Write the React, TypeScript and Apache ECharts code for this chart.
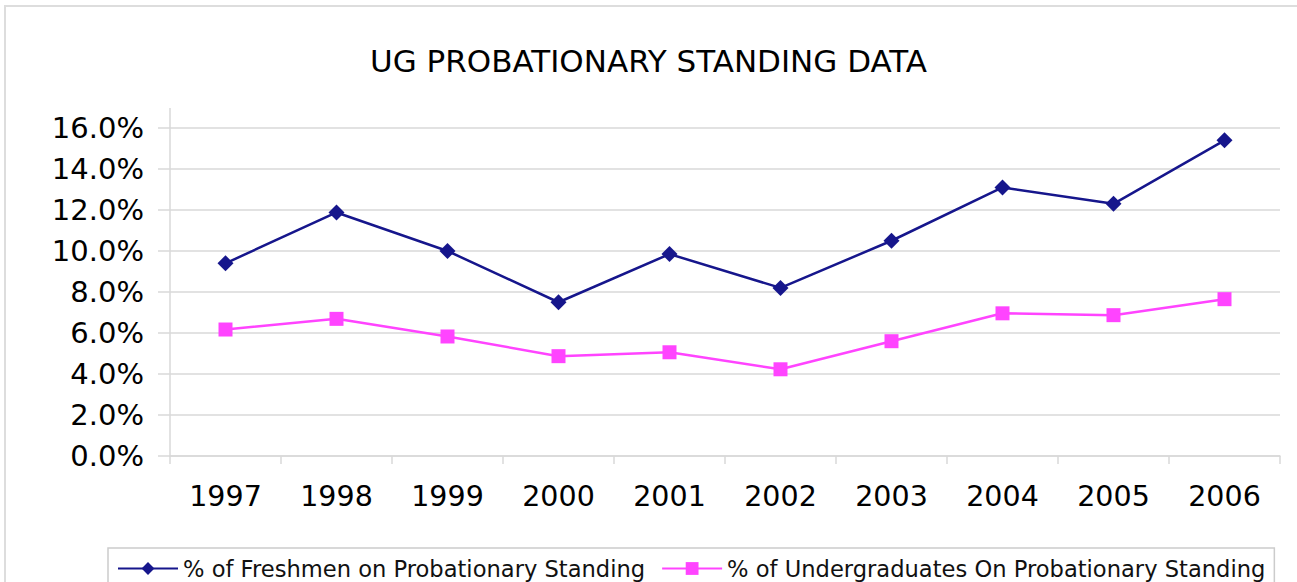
import React, { useEffect, useRef } from "react";
import * as echarts from "echarts";

const years = ["1997", "1998", "1999", "2000", "2001", "2002", "2003", "2004", "2005", "2006"];
const freshmen = [0.094, 0.1188, 0.100, 0.075, 0.0985, 0.082, 0.105, 0.131, 0.123, 0.154];
const undergrads = [0.0617, 0.0669, 0.0583, 0.0487, 0.0506, 0.0423, 0.056, 0.0696, 0.0687, 0.0765];
const seriesNames = [
  "% of Freshmen on Probationary Standing",
  "% of Undergraduates On Probationary Standing",
];
const titleText = "UG PROBATIONARY STANDING DATA";

export default function App() {
  const ref = useRef<HTMLDivElement>(null);
  useEffect(() => {
    if (!ref.current) return;
    const chart = echarts.init(ref.current, undefined, { renderer: "svg" });
    const font = "'DejaVu Sans', Verdana, sans-serif";
    chart.setOption({
      animation: false,
      backgroundColor: "#ffffff",
      textStyle: { fontFamily: font },
      title: {
        text: titleText,
        left: "center",
        top: 40,
        textStyle: { fontFamily: font, fontSize: 31, fontWeight: "normal", color: "#000" },
      },
      graphic: [
        {
          type: "polyline",
          shape: { points: [[5, 600], [5, 6], [1300, 6]] },
          style: { stroke: "#dddddd", lineWidth: 2, fill: "none" },
          silent: true,
        },
        {
          type: "line",
          shape: { x1: 170, y1: 108, x2: 170, y2: 128 },
          style: { stroke: "#d9d9d9", lineWidth: 1.5 },
          silent: true,
        },
      ],
      legend: {
        left: 108,
        top: 548,
        padding: [9, 9, 9, 9],
        borderColor: "#cccccc",
        borderWidth: 1.5,
        itemWidth: 60,
        itemHeight: 16,
        itemGap: 16,
        textStyle: { fontFamily: font, fontSize: 22.6, color: "#111" },
        data: seriesNames,
      },
      grid: { left: 170, right: 17, top: 128, bottom: 126, containLabel: false },
      xAxis: {
        type: "category",
        data: years,
        boundaryGap: true,
        axisLine: { lineStyle: { color: "#d9d9d9", width: 1.5 } },
        axisTick: { show: true, length: 8, inside: false, lineStyle: { color: "#d9d9d9", width: 1.5 } },
        axisLabel: { fontFamily: font, fontSize: 28.5, color: "#000", margin: 26 },
      },
      yAxis: {
        type: "value",
        min: 0,
        max: 0.16,
        interval: 0.02,
        axisLine: { show: true, lineStyle: { color: "#d9d9d9", width: 1.5 } },
        axisTick: { show: true, length: 12, lineStyle: { color: "#d9d9d9", width: 1.5 } },
        splitLine: { show: true, lineStyle: { color: "#d9d9d9", width: 1.5 } },
        axisLabel: {
          fontFamily: font,
          fontSize: 29,
          color: "#000",
          margin: 26,
          formatter: (v: number) => (v * 100).toFixed(1) + "%",
        },
      },
      series: [
        {
          name: seriesNames[0],
          type: "line",
          data: freshmen,
          symbol: "diamond",
          symbolSize: 16,
          itemStyle: { color: "#16168c" },
          lineStyle: { color: "#16168c", width: 2.5 },
        },
        {
          name: seriesNames[1],
          type: "line",
          data: undergrads,
          symbol: "rect",
          symbolSize: 14,
          itemStyle: { color: "#ff44ff" },
          lineStyle: { color: "#ff44ff", width: 2.5 },
        },
      ],
    });
    return () => chart.dispose();
  }, []);
  return (
    <div
      ref={ref}
      style={{ position: "absolute", left: 0, top: 0, width: 1297, height: 582 }}
    />
  );
}
